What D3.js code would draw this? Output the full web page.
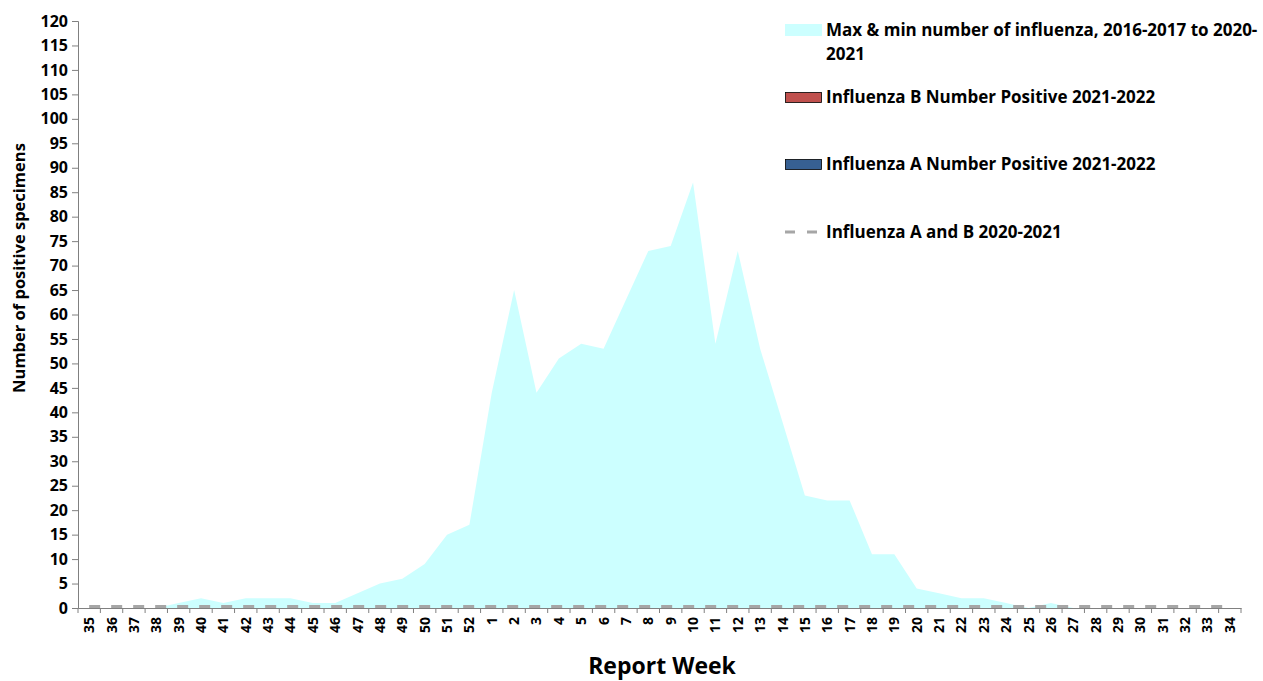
<!DOCTYPE html>
<html>
<head>
<meta charset="utf-8">
<script src="https://cdn.jsdelivr.net/npm/d3@7"></script>
<style>
  body { margin: 0; background: #fff; }
  text { font-family: "Open Sans", sans-serif; font-weight: bold; fill: #000; }
</style>
</head>
<body>
<div id="chart"></div>
<script>
// report weeks, 35..52 then 1..34
const weeks = ["35","36","37","38","39","40","41","42","43","44","45","46","47","48","49","50","51","52",
  "1","2","3","4","5","6","7","8","9","10","11","12","13","14","15","16","17","18","19","20","21","22",
  "23","24","25","26","27","28","29","30","31","32","33","34"];

// max and min of 2016-2017 .. 2020-2021 seasons
const maxVals = [0,0,0,0,1,2,1,2,2,2,1,1,3,5,6,9,15,17,
  44,65,44,51,54,53,63,73,74,87,54,73,53,38,23,22,22,11,11,4,3,2,
  2,1,0,1,0,0,0,0,0,0,0,0];
const minVals = [0,0,0,0,0,0,0,0,0,0,0,0,0,0,0,0,0,0,
  0,0,0,0,0,0,0,0,0,0,0,0,0,0,0,0,0,0,0,0,0,0,
  0,0,0,0,0,0,0,0,0,0,0,0];

// 2021-2022 positives (none reported yet) and 2020-2021 total
const fluB = [0,0,0,0,0,0,0,0,0,0,0,0,0,0,0,0,0,0,0,0,0,0,0,0,0,0,0,0,0,0,0,0,0,0,0,0,0,0,0,0,0,0,0,0,0,0,0,0,0,0,0,0];
const fluA = [0,0,0,0,0,0,0,0,0,0,0,0,0,0,0,0,0,0,0,0,0,0,0,0,0,0,0,0,0,0,0,0,0,0,0,0,0,0,0,0,0,0,0,0,0,0,0,0,0,0,0,0];
const fluAB2021 = [0,0,0,0,0,0,0,0,0,0,0,0,0,0,0,0,0,0,0,0,0,0,0,0,0,0,0,0,0,0,0,0,0,0,0,0,0,0,0,0,0,0,0,0,0,0,0,0,0,0,0,0];

const yTicks = d3.range(0, 121, 5);

const width = 1263, height = 681;
const mLeft = 78, mRight = 1241, mTop = 21, mBottom = 608;

const svg = d3.select("#chart").append("svg")
  .attr("width", width)
  .attr("height", height);

const x = d3.scaleBand().domain(weeks).range([mLeft, mRight]).padding(0);
const y = d3.scaleLinear().domain([0, 120]).range([mBottom, mTop]);
const cx = d => x(d) + x.bandwidth() / 2;

// min-max band
const area = d3.area()
  .x((d, i) => cx(weeks[i]))
  .y0((d, i) => y(minVals[i]))
  .y1(d => y(d));

svg.append("path")
  .datum(maxVals)
  .attr("d", area)
  .attr("fill", "#CCFFFF");

// stacked bars for 2021-2022
const bw = x.bandwidth() * 0.6;
svg.append("g").selectAll("rect")
  .data(fluA)
  .join("rect")
  .attr("x", (d, i) => cx(weeks[i]) - bw / 2)
  .attr("y", d => y(d))
  .attr("width", bw)
  .attr("height", d => mBottom - y(d))
  .attr("fill", "#376092");

svg.append("g").selectAll("rect")
  .data(fluB)
  .join("rect")
  .attr("x", (d, i) => cx(weeks[i]) - bw / 2)
  .attr("y", (d, i) => y(d + fluA[i]))
  .attr("width", bw)
  .attr("height", (d, i) => y(fluA[i]) - y(d + fluA[i]))
  .attr("fill", "#C0504D");

// 2020-2021 dashed line
const line = d3.line()
  .x((d, i) => cx(weeks[i]))
  .y(d => y(d) - 1.5);

svg.append("path")
  .datum(fluAB2021)
  .attr("d", line)
  .attr("fill", "none")
  .attr("stroke", "#A6A6A6")
  .attr("stroke-width", 3)
  .attr("stroke-dasharray", "11,11");

// y axis
const yAxis = svg.append("g")
  .attr("transform", `translate(${mLeft},0)`)
  .call(d3.axisLeft(y).tickValues(yTicks).tickSize(6).tickPadding(4));
yAxis.selectAll("text").style("font-size", "16px");
yAxis.selectAll("line, path").attr("stroke", "#808080");

// x axis
const xAxis = svg.append("g")
  .attr("transform", `translate(0,${mBottom})`)
  .call(d3.axisBottom(x).tickSize(0).tickPadding(0));
xAxis.select("path").attr("stroke", "#808080");
xAxis.selectAll("text")
  .style("font-size", "14px")
  .attr("text-anchor", "end")
  .attr("transform", "translate(5,9) rotate(-90)")
  .attr("dy", 0)
  .attr("y", 0)
  .attr("x", 0);

svg.append("g").selectAll("line")
  .data(weeks.concat(["end"]))
  .join("line")
  .attr("x1", d => d === "end" ? mRight : x(d))
  .attr("x2", d => d === "end" ? mRight : x(d))
  .attr("y1", mBottom)
  .attr("y2", mBottom + 5)
  .attr("stroke", "#808080");

// axis titles
svg.append("text")
  .attr("transform", "translate(25,268) rotate(-90)")
  .attr("text-anchor", "middle")
  .style("font-size", "16.5px")
  .text("Number of positive specimens");

svg.append("text")
  .attr("x", 662)
  .attr("y", 674)
  .attr("text-anchor", "middle")
  .style("font-size", "23px")
  .text("Report Week");

// legend
const lg = svg.append("g");
lg.append("rect").attr("x", 785).attr("y", 24).attr("width", 37).attr("height", 12).attr("fill", "#CCFFFF");
lg.append("text").attr("x", 826).attr("y", 36).style("font-size", "17px")
  .text("Max & min number of influenza, 2016-2017 to 2020-");
lg.append("text").attr("x", 826).attr("y", 60).style("font-size", "17px").text("2021");

lg.append("rect").attr("x", 785.5).attr("y", 92.5).attr("width", 36).attr("height", 10)
  .attr("fill", "#C0504D").attr("stroke", "#000").attr("stroke-width", 0.8);
lg.append("text").attr("x", 826).attr("y", 103).style("font-size", "17px")
  .text("Influenza B Number Positive 2021-2022");

lg.append("rect").attr("x", 785.5).attr("y", 159.5).attr("width", 36).attr("height", 10)
  .attr("fill", "#376092").attr("stroke", "#000").attr("stroke-width", 0.8);
lg.append("text").attr("x", 826).attr("y", 170).style("font-size", "17px")
  .text("Influenza A Number Positive 2021-2022");

lg.append("line").attr("x1", 785).attr("x2", 819).attr("y1", 232).attr("y2", 232)
  .attr("stroke", "#A6A6A6").attr("stroke-width", 3).attr("stroke-dasharray", "10,12");
lg.append("text").attr("x", 826).attr("y", 238).style("font-size", "17px")
  .text("Influenza A and B 2020-2021");
</script>
</body>
</html>
